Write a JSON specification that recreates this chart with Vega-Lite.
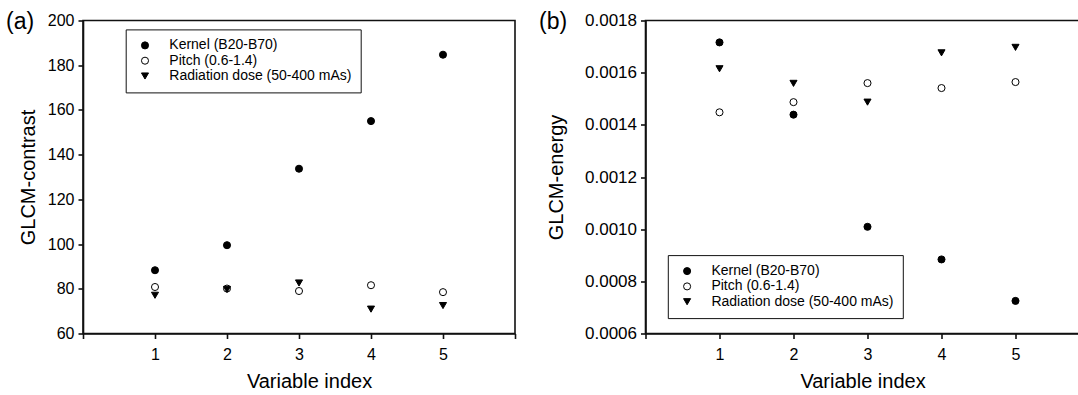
{
  "$schema": "https://vega.github.io/schema/vega-lite/v6.json",
  "padding": {"left": 5, "top": 9.5, "right": 0, "bottom": 2},
  "datasets": {
    "contrast": [
      {"idx": 1, "series": "Kernel (B20-B70)", "value": 88.3},
      {"idx": 2, "series": "Kernel (B20-B70)", "value": 99.5},
      {"idx": 3, "series": "Kernel (B20-B70)", "value": 133.7},
      {"idx": 4, "series": "Kernel (B20-B70)", "value": 155.0},
      {"idx": 5, "series": "Kernel (B20-B70)", "value": 184.7},
      {"idx": 1, "series": "Pitch (0.6-1.4)", "value": 80.8},
      {"idx": 2, "series": "Pitch (0.6-1.4)", "value": 80.1},
      {"idx": 3, "series": "Pitch (0.6-1.4)", "value": 79.0},
      {"idx": 4, "series": "Pitch (0.6-1.4)", "value": 81.6},
      {"idx": 5, "series": "Pitch (0.6-1.4)", "value": 78.5},
      {"idx": 1, "series": "Radiation dose (50-400 mAs)", "value": 77.1},
      {"idx": 2, "series": "Radiation dose (50-400 mAs)", "value": 79.7},
      {"idx": 3, "series": "Radiation dose (50-400 mAs)", "value": 82.6},
      {"idx": 4, "series": "Radiation dose (50-400 mAs)", "value": 70.9},
      {"idx": 5, "series": "Radiation dose (50-400 mAs)", "value": 72.5}
    ],
    "energy": [
      {"idx": 1, "series": "Kernel (B20-B70)", "value": 0.001716},
      {"idx": 2, "series": "Kernel (B20-B70)", "value": 0.001439},
      {"idx": 3, "series": "Kernel (B20-B70)", "value": 0.001009},
      {"idx": 4, "series": "Kernel (B20-B70)", "value": 0.000884},
      {"idx": 5, "series": "Kernel (B20-B70)", "value": 0.000725},
      {"idx": 1, "series": "Pitch (0.6-1.4)", "value": 0.001448},
      {"idx": 2, "series": "Pitch (0.6-1.4)", "value": 0.001487},
      {"idx": 3, "series": "Pitch (0.6-1.4)", "value": 0.00156},
      {"idx": 4, "series": "Pitch (0.6-1.4)", "value": 0.001541},
      {"idx": 5, "series": "Pitch (0.6-1.4)", "value": 0.001564},
      {"idx": 1, "series": "Radiation dose (50-400 mAs)", "value": 0.001615},
      {"idx": 2, "series": "Radiation dose (50-400 mAs)", "value": 0.001559},
      {"idx": 3, "series": "Radiation dose (50-400 mAs)", "value": 0.001487},
      {"idx": 4, "series": "Radiation dose (50-400 mAs)", "value": 0.001676},
      {"idx": 5, "series": "Radiation dose (50-400 mAs)", "value": 0.001697}
    ]
  },
  "config": {
    "font": "Liberation Sans",
    "view": {"stroke": "#111", "strokeWidth": 1.6},
    "axis": {
      "domainColor": "#111", "domainWidth": 1.6, "tickColor": "#111", "tickWidth": 1.6, "tickSize": 5,
      "grid": false, "labelColor": "#000", "titleColor": "#000", "labelFontSize": 16, "titleFontSize": 20,
      "titleFontWeight": "normal", "labelFont": "Liberation Sans", "titleFont": "Liberation Sans"
    },
    "axisX": {"labelPadding": 8, "titlePadding": 9, "labelAngle": 0},
    "axisY": {"labelPadding": 4},
    "legend": {
      "padding": 9, "rowPadding": 1.3, "labelFontSize": 14, "labelOffset": 17.3, "symbolOffset": 3.3,
      "strokeColor": "#111", "symbolStrokeColor": "#000", "symbolStrokeWidth": 1, "labelColor": "#000",
      "labelFont": "Liberation Sans", "labelLimit": 0
    },
    "title": {"fontSize": 23, "fontWeight": "normal", "color": "#000", "anchor": "start", "frame": "group", "baseline": "alphabetic", "font": "Liberation Sans"}
  },
  "spacing": 20.5,
  "resolve": {
    "scale": {"x": "independent", "y": "independent", "fill": "independent", "shape": "independent", "size": "independent", "stroke": "independent"},
    "legend": {"fill": "independent", "shape": "independent", "size": "independent", "stroke": "independent"}
  },
  "hconcat": [
    {
      "width": 432, "height": 313,
      "data": {"name": "contrast"},
      "title": {"text": "(a)", "dx": -77, "offset": -21.3},
      "mark": {"type": "point", "filled": true, "opacity": 1, "strokeWidth": 1},
      "encoding": {
        "x": {"field": "idx", "type": "quantitative", "scale": {"domain": [0, 6], "nice": false},
          "axis": {"title": "Variable index", "values": [0, 1, 2, 3, 4, 5, 6], "labelExpr": "datum.value >= 1 && datum.value <= 5 ? datum.label : ''", "titleX": 226}},
        "y": {"field": "value", "type": "quantitative", "scale": {"domain": [60, 200], "nice": false, "zero": false},
          "axis": {"title": "GLCM-contrast", "values": [60, 80, 100, 120, 140, 160, 180, 200], "titlePadding": 8.5}},
        "shape": {"field": "series", "type": "nominal",
          "scale": {"domain": ["Kernel (B20-B70)", "Pitch (0.6-1.4)", "Radiation dose (50-400 mAs)"], "range": ["circle", "circle", "triangle-down"]},
          "legend": {"title": null, "orient": "none", "legendX": 42.7, "legendY": 8.9, "direction": "vertical"}},
        "fill": {"field": "series", "type": "nominal",
          "scale": {"domain": ["Kernel (B20-B70)", "Pitch (0.6-1.4)", "Radiation dose (50-400 mAs)"], "range": ["#000000", "#ffffff", "#000000"]},
          "legend": {"title": null, "orient": "none", "legendX": 42.7, "legendY": 8.9, "direction": "vertical"}},
        "stroke": {"field": "series", "type": "nominal",
          "scale": {"domain": ["Kernel (B20-B70)", "Pitch (0.6-1.4)", "Radiation dose (50-400 mAs)"], "range": ["#000000", "#000000", "#000000"]},
          "legend": {"title": null, "orient": "none", "legendX": 42.7, "legendY": 8.9, "direction": "vertical"}},
        "size": {"field": "series", "type": "nominal",
          "scale": {"domain": ["Kernel (B20-B70)", "Pitch (0.6-1.4)", "Radiation dose (50-400 mAs)"], "range": [50, 50, 64]},
          "legend": {"title": null, "orient": "none", "legendX": 42.7, "legendY": 8.9, "direction": "vertical"}}
      }
    },
    {
      "width": 444, "height": 313,
      "data": {"name": "energy"},
      "title": {"text": "(b)", "dx": -106.5, "offset": -22},
      "mark": {"type": "point", "filled": true, "opacity": 1, "strokeWidth": 1},
      "encoding": {
        "x": {"field": "idx", "type": "quantitative", "scale": {"domain": [0, 6], "nice": false},
          "axis": {"title": "Variable index", "values": [0, 1, 2, 3, 4, 5, 6], "labelExpr": "datum.value >= 1 && datum.value <= 5 ? datum.label : ''", "titleX": 217}},
        "y": {"field": "value", "type": "quantitative", "scale": {"domain": [0.0006, 0.0018], "nice": false, "zero": false},
          "axis": {"title": "GLCM-energy", "values": [0.0006, 0.0008, 0.001, 0.0012, 0.0014, 0.0016, 0.0018], "format": ".4f", "labelFontSize": 17, "titlePadding": 18}},
        "shape": {"field": "series", "type": "nominal",
          "scale": {"domain": ["Kernel (B20-B70)", "Pitch (0.6-1.4)", "Radiation dose (50-400 mAs)"], "range": ["circle", "circle", "triangle-down"]},
          "legend": {"title": null, "orient": "none", "legendX": 22.3, "legendY": 234.6, "direction": "vertical"}},
        "fill": {"field": "series", "type": "nominal",
          "scale": {"domain": ["Kernel (B20-B70)", "Pitch (0.6-1.4)", "Radiation dose (50-400 mAs)"], "range": ["#000000", "#ffffff", "#000000"]},
          "legend": {"title": null, "orient": "none", "legendX": 22.3, "legendY": 234.6, "direction": "vertical"}},
        "stroke": {"field": "series", "type": "nominal",
          "scale": {"domain": ["Kernel (B20-B70)", "Pitch (0.6-1.4)", "Radiation dose (50-400 mAs)"], "range": ["#000000", "#000000", "#000000"]},
          "legend": {"title": null, "orient": "none", "legendX": 22.3, "legendY": 234.6, "direction": "vertical"}},
        "size": {"field": "series", "type": "nominal",
          "scale": {"domain": ["Kernel (B20-B70)", "Pitch (0.6-1.4)", "Radiation dose (50-400 mAs)"], "range": [50, 50, 64]},
          "legend": {"title": null, "orient": "none", "legendX": 22.3, "legendY": 234.6, "direction": "vertical"}}
      }
    }
  ]
}
